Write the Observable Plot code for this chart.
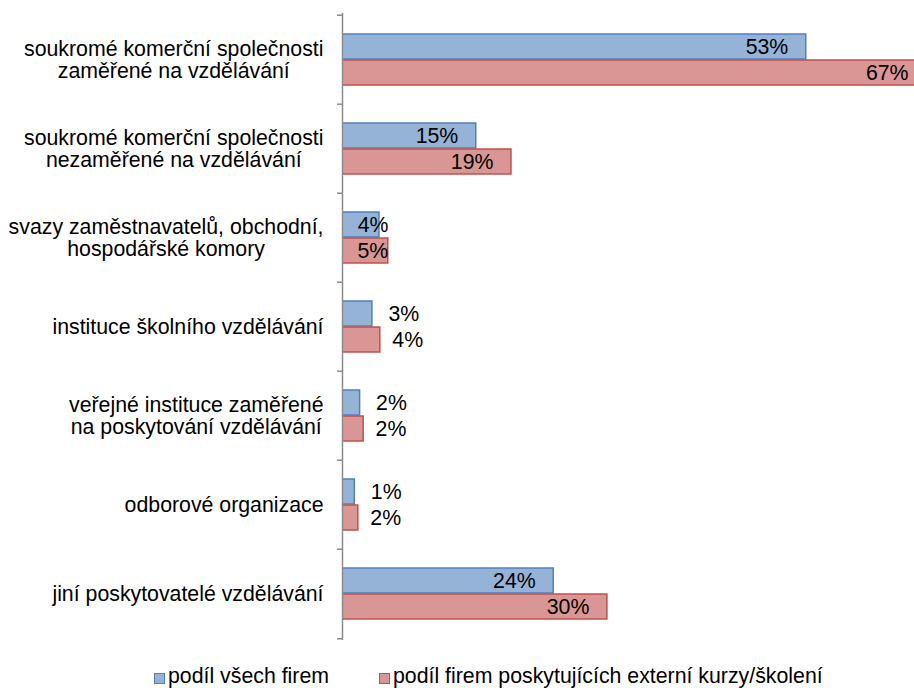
<!DOCTYPE html>
<html><head><meta charset="utf-8">
<script src="https://cdn.jsdelivr.net/npm/d3@7"></script>
<script src="https://cdn.jsdelivr.net/npm/@observablehq/plot@0.6"></script>
<style>
body{margin:0;background:#fff;font-family:"Liberation Sans",Arial,sans-serif;}
#wrap{position:relative;width:914px;height:688px;overflow:hidden;}
#legend{position:absolute;top:666px;left:154px;display:flex;align-items:flex-start;font-size:21.3px;line-height:21px;color:#000;white-space:nowrap}
.item{display:flex;align-items:flex-start}
.sw{width:9px;height:9px;border:1px solid;margin-top:7px;margin-right:3px;}
</style></head><body><div id="wrap"><div id="chart"></div><div id="legend"></div></div>
<script>
const categories = [
  "soukromé komerční společnosti\nzaměřené na vzdělávání",
  "soukromé komerční společnosti\nnezaměřené na vzdělávání",
  "svazy zaměstnavatelů, obchodní,\nhospodářské komory",
  "instituce školního vzdělávání",
  "veřejné instituce zaměřené\nna poskytování vzdělávání",
  "odborové organizace",
  "jiní poskytovatelé vzdělávání"
];
const seriesNames = ["podíl všech firem", "podíl firem poskytujících externí kurzy/školení"];
const allFirms = [52.7, 15.2, 4.2, 3.4, 2.0, 1.4, 24.0];
const trainingFirms = [66.8, 19.2, 5.2, 4.3, 2.4, 1.8, 30.1];
const xMax = 65;

const colors = [
  {fill: "#95B3D7", stroke: "#4F81BD"},
  {fill: "#D99694", stroke: "#C0504D"}
];
const font = "Liberation Sans, Arial, sans-serif";
const fs = 21.3;
const W = 914, H = 666, mT = 13, mB = 26, mL = 342, mR = 0;
const bh = (H - mT - mB) / categories.length;
const fmt = v => d3.format(".0f")(v) + "%";

const rows = [allFirms, trainingFirms].map((vals, s) =>
  vals.map((v, i) => ({cat: categories[i], v, s, i})));

const ctx = document.createElement("canvas").getContext("2d");
ctx.font = fs + "px 'Liberation Sans'";
const labelMarks = categories.map(c => {
  const w = d3.max(c.split("\n"), l => ctx.measureText(l).width);
  const center = 323 - w / 2;
  return Plot.text([c], {y: d => d, text: d => d, frameAnchor: "left", dx: center - mL,
    textAnchor: "middle", lineAnchor: "middle", lineHeight: 1.04, fontSize: fs, fill: "#000", fontFamily: font});
});

const textOpts = {fontSize: fs, fill: "#000", fontFamily: font, lineAnchor: "middle"};
const valueMarks = rows.flatMap((r, s) => {
  const dy = s === 0 ? -13 : 13;
  return [
    Plot.text(r.filter(d => d.v >= 10 && d.v <= xMax), {...textOpts, y: "cat", x: "v", text: d => fmt(d.v), textAnchor: "end", dx: -18, dy}),
    Plot.text(r.filter(d => d.v > xMax), {...textOpts, y: "cat", x: () => xMax, text: d => fmt(d.v), textAnchor: "end", dx: -6, dy}),
    Plot.text(r.filter(d => d.v < 10 && d.i === 2), {...textOpts, y: "cat", x: "v", text: d => fmt(d.v), textAnchor: "end", dx: s === 0 ? 9 : 0, dy}),
    Plot.text(r.filter(d => d.v < 10 && d.i !== 2), {...textOpts, y: "cat", x: "v", text: d => fmt(d.v), textAnchor: "start", dx: s === 0 ? 16 : 12, dy})
  ];
});

const chart = Plot.plot({
  width: W, height: H,
  marginTop: mT, marginBottom: mB, marginLeft: mL, marginRight: mR,
  style: {fontFamily: font, fontSize: fs + "px", background: "#fff"},
  x: {domain: [0, xMax], axis: null},
  y: {domain: categories, padding: 0, axis: null},
  marks: [
    Plot.barX(rows[0], {y: "cat", x: "v", fill: colors[0].fill, stroke: colors[0].stroke, strokeWidth: 1.5, insetTop: 19, insetBottom: 45, clip: true}),
    Plot.barX(rows[1], {y: "cat", x: "v", fill: colors[1].fill, stroke: colors[1].stroke, strokeWidth: 1.5, insetTop: 45, insetBottom: 19, clip: true}),
    Plot.axisY(categories, {tickSize: 5, tickFormat: () => "", label: null, dy: -bh / 2, stroke: "#8c8c8c", strokeWidth: 1.5}),
    Plot.axisY([categories[categories.length - 1]], {tickSize: 5, tickFormat: () => "", label: null, dy: bh / 2, stroke: "#8c8c8c", strokeWidth: 1.5}),
    Plot.ruleX([0], {stroke: "#8c8c8c", strokeWidth: 1.5}),
    ...valueMarks,
    ...labelMarks
  ]
});
document.getElementById("chart").appendChild(chart);

const legend = document.getElementById("legend");
seriesNames.forEach((n, i) => {
  const it = document.createElement("div");
  it.className = "item";
  if (i > 0) it.style.marginLeft = "50px";
  const sw = document.createElement("div");
  sw.className = "sw";
  sw.style.background = colors[i].fill;
  sw.style.borderColor = colors[i].stroke;
  const t = document.createElement("span");
  t.textContent = n;
  it.appendChild(sw); it.appendChild(t);
  legend.appendChild(it);
});
</script></body></html>
